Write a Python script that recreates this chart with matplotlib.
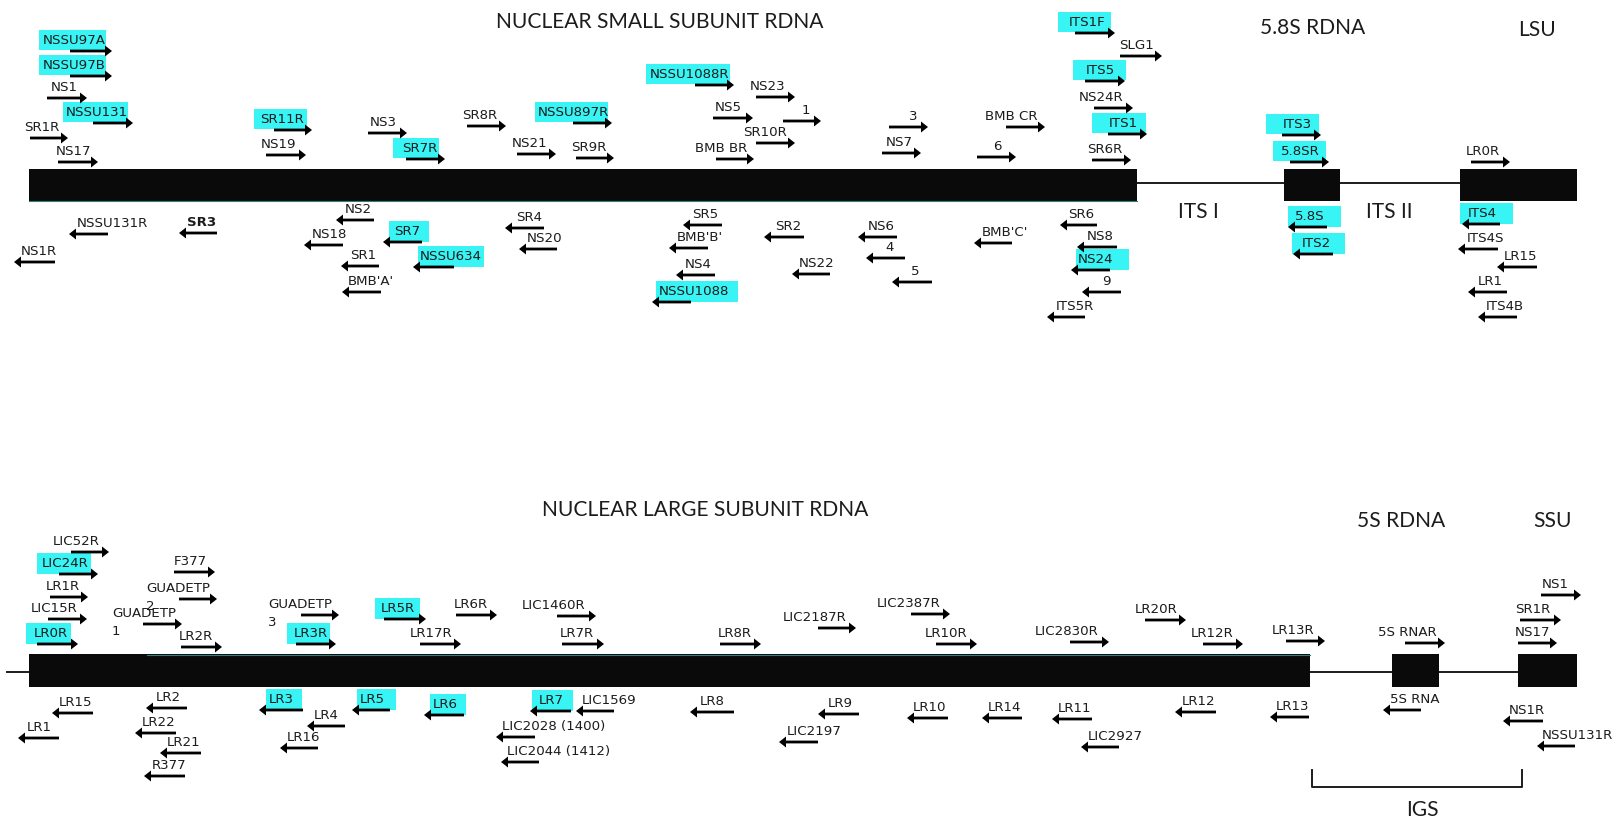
"""Primer map for the nuclear rDNA repeat (SSU / ITS / LSU / IGS)."""

import matplotlib
matplotlib.use("Agg")
import matplotlib.pyplot as plt
from matplotlib.patches import Rectangle

plt.rcParams['font.family'] = ['Lato', 'DejaVu Sans']

# ---- gene structure (x extents along the drawing) -------------------------
ssu_blocks = [(29, 1137), (1284, 1340), (1460, 1577)]
ssu_spacer = (1137, 1460)
lsu_blocks = [(29, 1310), (1392, 1439), (1518, 1577)]
lsu_spacer = (7, 1518)

# ---- primers: (name, tail, head, level, label_x) ---------------------------
ssu_forward = [
    ("NSSU97A", 70, 112, 51, 43), ("NSSU97B", 70, 112, 76, 43),
    ("NS1", 47, 87, 98, 51), ("NSSU131", 93, 133, 123, 66),
    ("SR1R", 30, 68, 138, 24), ("NS17", 58, 98, 162, 56),
    ("SR11R", 274, 312, 130, 260), ("NS19", 266, 306, 155, 261),
    ("NS3", 368, 407, 133, 370), ("SR7R", 406, 445, 159, 402),
    ("SR8R", 467, 506, 126, 462), ("NS21", 517, 556, 154, 512),
    ("NSSU897R", 573, 612, 123, 538), ("SR9R", 576, 614, 158, 571),
    ("NSSU1088R", 695, 734, 85, 650), ("NS23", 756, 795, 97, 750),
    ("NS5", 713, 753, 118, 715), ("1", 783, 821, 121, 802),
    ("SR10R", 756, 795, 143, 743), ("BMB BR", 716, 754, 159, 695),
    ("3", 889, 928, 127, 909), ("NS7", 882, 921, 153, 886),
    ("BMB CR", 1006, 1045, 127, 985), ("6", 977, 1016, 157, 993),
    ("ITS1F", 1075, 1115, 33, 1069), ("SLG1", 1120, 1162, 56, 1119),
    ("ITS5", 1085, 1125, 81, 1086), ("NS24R", 1094, 1133, 108, 1079),
    ("ITS1", 1108, 1147, 134, 1109), ("SR6R", 1092, 1131, 160, 1087),
    ("ITS3", 1282, 1321, 135, 1283), ("5.8SR", 1290, 1329, 162, 1281),
    ("LR0R", 1471, 1510, 162, 1466),
]

ssu_reverse = [
    ("NSSU131R", 108, 69, 234, 77), ("SR3", 217, 179, 233, 187),
    ("NS1R", 55, 14, 262, 21), ("NS2", 374, 336, 220, 345),
    ("NS18", 343, 304, 245, 312), ("SR7", 422, 383, 242, 394),
    ("SR1", 379, 341, 266, 350), ("NSSU634", 454, 413, 267, 420),
    ("BMB'A'", 381, 342, 292, 348), ("SR4", 544, 505, 228, 516),
    ("NS20", 557, 519, 249, 527), ("SR5", 722, 683, 225, 692),
    ("BMB'B'", 708, 669, 248, 677), ("NS4", 715, 676, 275, 685),
    ("NSSU1088", 691, 652, 302, 659), ("SR2", 804, 764, 237, 775),
    ("NS22", 830, 792, 274, 799), ("NS6", 897, 858, 237, 868),
    ("4", 905, 866, 258, 885), ("5", 932, 892, 282, 911),
    ("BMB'C'", 1012, 974, 243, 982), ("SR6", 1097, 1060, 225, 1068),
    ("NS8", 1117, 1077, 247, 1087), ("NS24", 1110, 1071, 270, 1078),
    ("9", 1121, 1082, 292, 1102), ("ITS5R", 1085, 1047, 317, 1056),
    ("5.8S", 1327, 1288, 227, 1295), ("ITS2", 1333, 1293, 254, 1302),
    ("ITS4", 1500, 1462, 224, 1468), ("ITS4S", 1498, 1458, 249, 1467),
    ("LR15", 1537, 1497, 267, 1504), ("LR1", 1507, 1468, 292, 1478),
    ("ITS4B", 1517, 1478, 317, 1486),
]

lsu_forward = [
    ("LIC52R", 71, 109, 552, 53), ("LIC24R", 59, 98, 574, 42),
    ("LR1R", 50, 88, 597, 46), ("LIC15R", 48, 87, 619, 31),
    ("LR0R", 37, 78, 644, 34), ("F377", 174, 215, 572, 174),
    ("GUADETP\n2", 179, 217, 599, 146), ("GUADETP\n1", 143, 182, 624, 112),
    ("LR2R", 181, 222, 647, 179), ("GUADETP\n3", 301, 339, 615, 268),
    ("LR3R", 296, 336, 644, 294), ("LR5R", 384, 426, 619, 381),
    ("LR6R", 456, 497, 615, 454), ("LR17R", 420, 461, 644, 410),
    ("LIC1460R", 557, 596, 616, 522), ("LR7R", 562, 604, 644, 560),
    ("LR8R", 720, 761, 644, 718), ("LIC2187R", 818, 856, 628, 783),
    ("LIC2387R", 911, 950, 614, 877), ("LR10R", 936, 977, 644, 925),
    ("LIC2830R", 1070, 1109, 642, 1035), ("LR20R", 1145, 1186, 620, 1135),
    ("LR12R", 1203, 1243, 644, 1191), ("LR13R", 1286, 1325, 641, 1272),
    ("5S RNAR", 1405, 1445, 643, 1378), ("NS1", 1541, 1581, 595, 1542),
    ("SR1R", 1520, 1561, 620, 1515), ("NS17", 1518, 1557, 643, 1515),
]

lsu_reverse = [
    ("LR15", 93, 52, 713, 59), ("LR1", 59, 18, 738, 27),
    ("LR2", 187, 146, 708, 156), ("LR22", 176, 135, 733, 142),
    ("LR21", 201, 160, 753, 167), ("R377", 185, 144, 776, 152),
    ("LR3", 303, 259, 710, 269), ("LR4", 345, 307, 726, 314),
    ("LR16", 318, 280, 748, 287), ("LR5", 390, 352, 710, 360),
    ("LR6", 464, 424, 715, 433), ("LR7", 571, 530, 711, 539),
    ("LIC1569", 614, 576, 711, 582), ("LIC2028 (1400)", 535, 496, 737, 502),
    ("LIC2044 (1412)", 539, 501, 762, 507), ("LR8", 734, 690, 712, 700),
    ("LR9", 859, 818, 714, 828), ("LIC2197", 818, 779, 742, 787),
    ("LR10", 948, 907, 718, 913), ("LR14", 1022, 982, 718, 988),
    ("LR11", 1092, 1052, 719, 1058), ("LIC2927", 1119, 1081, 747, 1088),
    ("LR12", 1216, 1175, 712, 1182), ("LR13", 1309, 1270, 717, 1276),
    ("5S RNA", 1421, 1383, 710, 1390), ("NS1R", 1543, 1503, 721, 1509),
    ("NSSU131R", 1575, 1537, 746, 1542),
]

# primers marked in cyan, with the span of their marker
ssu_marked = {
    "NSSU97A": (39, 106), "NSSU97B": (39, 106), "NSSU131": (63, 128),
    "SR11R": (254, 307), "SR7R": (393, 439), "NSSU897R": (535, 608),
    "NSSU1088R": (646, 730), "ITS1F": (1058, 1111), "ITS5": (1073, 1126),
    "ITS1": (1092, 1146), "ITS3": (1266, 1319), "5.8SR": (1273, 1326),
    "SR7": (389, 429), "NSSU634": (418, 484), "NSSU1088": (656, 738),
    "NS24": (1076, 1129), "5.8S": (1288, 1341), "ITS2": (1292, 1345),
    "ITS4": (1460, 1513),
}
lsu_marked = {
    "LIC24R": (37, 91), "LR0R": (26, 71), "LR3R": (287, 330),
    "LR5R": (375, 420), "LR3": (266, 302), "LR5": (357, 396),
    "LR6": (430, 466), "LR7": (532, 573),
}
bold_labels = {"SR3"}

# region captions: (text, left x, centre y)
captions = [
    ("NUCLEAR SMALL SUBUNIT RDNA", 496, 22), ("5.8S RDNA", 1260, 28),
    ("LSU", 1518, 30), ("ITS I", 1178, 212), ("ITS II", 1366, 212),
    ("NUCLEAR LARGE SUBUNIT RDNA", 542, 510), ("5S RDNA", 1357, 521),
    ("SSU", 1533, 521), ("IGS", 1406, 810),
]
igs_span = (1312, 1522)

CYAN = "#38f4f4"
INK = "#1c1c1c"
LABEL_FONT = "DejaVu Sans"
LABEL_SIZE = 9.6
CAPTION_SIZE = 15.1


def draw_gene(ax, blocks, spacer, top, height, line_y):
    ax.plot(spacer, [line_y, line_y], color=INK, lw=1.4, zorder=1)
    for x0, x1 in blocks:
        ax.add_patch(Rectangle((x0, top), x1 - x0, height,
                               facecolor="#0a0a0a", edgecolor="none", zorder=2))


def draw_primers(ax, primers, marked):
    for name, tail, head, y, lx in primers:
        if name in marked:
            x0, x1 = marked[name]
            ax.add_patch(Rectangle((x0, y - 21), x1 - x0, 20.5,
                                   facecolor=CYAN, edgecolor="none", zorder=1))
        ax.arrow(tail, y, head - tail, 0, width=2.8, head_width=11,
                 head_length=7, length_includes_head=True,
                 facecolor="black", edgecolor="black", lw=0, zorder=3)
        weight = "bold" if name in bold_labels else "normal"
        for k, line in enumerate(name.split("\n")):
            ax.text(lx, y - 10.5 + 18 * k, line, ha="left", va="center",
                    family=LABEL_FONT, fontsize=LABEL_SIZE, color=INK,
                    fontweight=weight, zorder=4)


fig = plt.figure(figsize=(16.14, 8.22), dpi=100)
ax = fig.add_axes([0, 0, 1, 1])
ax.set_xlim(0, 1614)
ax.set_ylim(822, 0)
ax.axis("off")

# small subunit panel
draw_gene(ax, ssu_blocks, ssu_spacer, 169, 32, 183)
ax.plot([29, 1137], [201, 201], color="#2f7f7f", lw=0.8, zorder=2)
draw_primers(ax, ssu_forward, ssu_marked)
draw_primers(ax, ssu_reverse, ssu_marked)

# large subunit panel
draw_gene(ax, lsu_blocks, lsu_spacer, 654, 33, 672)
ax.plot([147, 1310], [654.5, 654.5], color="#2f7f7f", lw=0.8, zorder=2)
draw_primers(ax, lsu_forward, lsu_marked)
draw_primers(ax, lsu_reverse, lsu_marked)

# IGS bracket
ax.plot([igs_span[0], igs_span[0], igs_span[1], igs_span[1]],
        [770, 787, 787, 770], color=INK, lw=1.4)

for text, x, y in captions:
    ax.text(x, y, text, ha="left", va="center", fontsize=CAPTION_SIZE,
            color=INK)

fig.savefig("out.png", dpi=100, facecolor="white")
